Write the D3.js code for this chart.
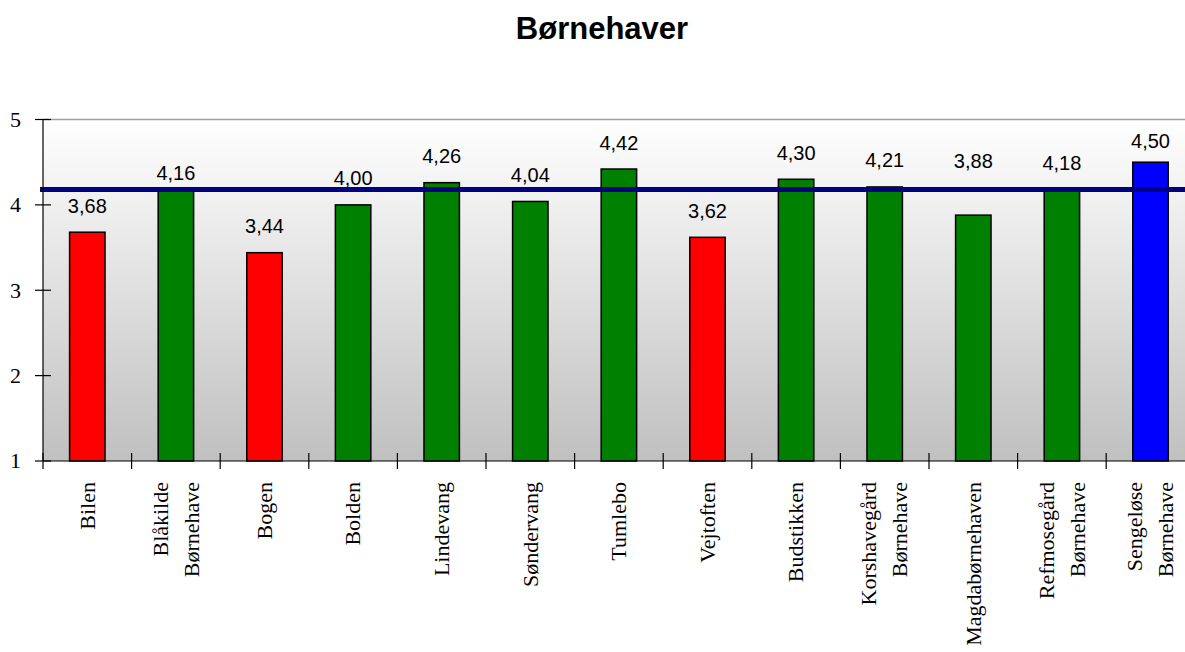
<!DOCTYPE html>
<meta charset="utf-8">
<style>
body { margin: 0; background: #fff; }
.title { font: bold 31px "Liberation Sans", Arial, sans-serif; }
.val { font: 20px "Liberation Sans", Arial, sans-serif; }
.cat, .ytick { font: 22px "Liberation Serif", "Times New Roman", serif; }
</style>
<svg id="chart" width="1185" height="652"></svg>
<script src="https://cdn.jsdelivr.net/npm/d3@7"></script>
<script>
var names = ["Bilen", "Blåkilde Børnehave", "Bogen", "Bolden", "Lindevang", "Søndervang", "Tumlebo",
             "Vejtoften", "Budstikken", "Korshavegård Børnehave", "Magdabørnehaven", "Refmosegård Børnehave", "Sengeløse Børnehave"];
var values = [3.68, 4.16, 3.44, 4.00, 4.26, 4.04, 4.42, 3.62, 4.30, 4.21, 3.88, 4.18, 4.50];
var groups = ["low", "ok", "low", "ok", "ok", "ok", "ok", "low", "ok", "ok", "ok", "ok", "own"];
var average = 4.18;
var yTicks = [1, 2, 3, 4, 5];

var colors = {low: "#ff0000", ok: "#008000", own: "#0000ff"};
// some labels were nudged by hand in the original (gap above bar, px)
var labelGap = {1: 11, 10: 47, 12: 14};

var svg = d3.select("#chart"),
    plotLeft = 43, plotTop = 119.5, plotBottom = 461, step = 88.6,
    plotRight = plotLeft + names.length * step;

var x = d3.scaleBand().domain(d3.range(names.length))
    .range([plotLeft, plotRight]).paddingInner(0.6).paddingOuter(0.3);
var y = d3.scaleLinear().domain([1, 5]).range([plotBottom, plotTop]);

var grad = svg.append("defs").append("linearGradient")
    .attr("id", "bg").attr("x1", 0).attr("y1", 0).attr("x2", 0).attr("y2", 1);
grad.append("stop").attr("offset", "0%").attr("stop-color", "#ffffff");
grad.append("stop").attr("offset", "100%").attr("stop-color", "#c0c0c0");

svg.append("rect")
    .attr("x", plotLeft).attr("y", plotTop)
    .attr("width", plotRight - plotLeft).attr("height", plotBottom - plotTop)
    .attr("fill", "url(#bg)");
svg.append("line")
    .attr("x1", plotLeft).attr("x2", plotRight).attr("y1", plotTop).attr("y2", plotTop)
    .attr("stroke", "#a0a0a0").attr("stroke-width", 1.5);

svg.append("text").attr("class", "title")
    .attr("x", 602).attr("y", 39).attr("text-anchor", "middle")
    .text("Børnehaver");

// bars
svg.append("g").selectAll("rect")
    .data(values).enter().append("rect")
    .attr("x", function(d, i) { return x(i); })
    .attr("y", function(d) { return y(d); })
    .attr("width", x.bandwidth())
    .attr("height", function(d) { return plotBottom - y(d); })
    .attr("fill", function(d, i) { return colors[groups[i]]; })
    .attr("stroke", "#000").attr("stroke-width", 1.5);

// average line
svg.append("line")
    .attr("x1", plotLeft - 3).attr("x2", plotRight)
    .attr("y1", y(average)).attr("y2", y(average))
    .attr("stroke", "#000080").attr("stroke-width", 5);

// value labels
svg.append("g").selectAll("text")
    .data(values).enter().append("text")
    .attr("class", "val")
    .attr("text-anchor", "middle")
    .attr("x", function(d, i) { return x(i) + x.bandwidth() / 2; })
    .attr("y", function(d, i) {
      var g = labelGap[i] !== undefined ? labelGap[i] : 19.5;
      return y(d) - g;
    })
    .text(function(d) { return d3.format(".2f")(d).replace(".", ","); });

// y axis
var yAxis = svg.append("g");
yAxis.append("line")
    .attr("x1", plotLeft).attr("x2", plotLeft).attr("y1", plotTop).attr("y2", plotBottom)
    .attr("stroke", "#000").attr("stroke-width", 1.2);
yAxis.selectAll("line.t").data(yTicks).enter().append("line")
    .attr("class", "t")
    .attr("x1", plotLeft - 8).attr("x2", plotLeft + 8)
    .attr("y1", function(d) { return y(d); }).attr("y2", function(d) { return y(d); })
    .attr("stroke", "#000").attr("stroke-width", 1.2);
yAxis.selectAll("text").data(yTicks).enter().append("text")
    .attr("class", "ytick")
    .attr("x", 21).attr("y", function(d) { return y(d); })
    .attr("dy", "0.33em").attr("text-anchor", "end")
    .text(function(d) { return d; });

// x axis
var xAxis = svg.append("g");
xAxis.append("line")
    .attr("x1", plotLeft).attr("x2", plotRight).attr("y1", plotBottom).attr("y2", plotBottom)
    .attr("stroke", "#000").attr("stroke-width", 1.2);
xAxis.selectAll("line.t").data(d3.range(names.length + 1)).enter().append("line")
    .attr("class", "t")
    .attr("x1", function(i) { return plotLeft + i * x.step(); })
    .attr("x2", function(i) { return plotLeft + i * x.step(); })
    .attr("y1", plotBottom - 8).attr("y2", plotBottom + 8)
    .attr("stroke", "#000").attr("stroke-width", 1.2);

var cats = xAxis.selectAll("g.cat").data(names).enter().append("g")
    .attr("transform", function(d, i) {
      return "translate(" + (x(i) + x.bandwidth() / 2) + "," + 482 + ") rotate(-90)";
    });
cats.each(function(d) {
  var lines = d.split(" ");
  var g = d3.select(this);
  lines.forEach(function(l, k) {
    var off = lines.length === 1 ? 0 : (k === 0 ? -15.5 : 15.5);
    g.append("text").attr("class", "cat")
      .attr("text-anchor", "end")
      .attr("x", 0).attr("y", off)
      .attr("dy", "0.33em")
      .text(l);
  });
});
</script>
